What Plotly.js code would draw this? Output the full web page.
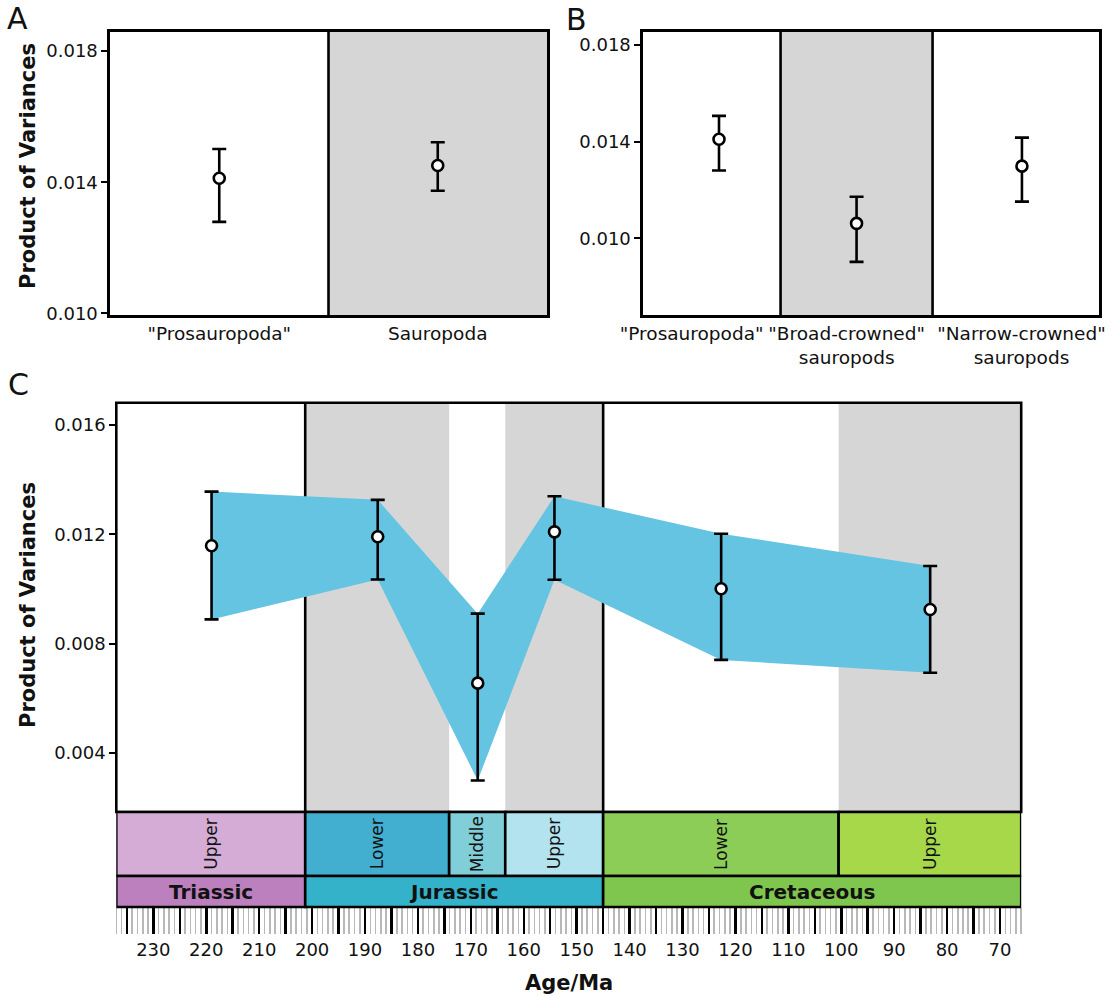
<!DOCTYPE html>
<html><head><meta charset="utf-8">
<script src="https://cdn.plot.ly/plotly-3.0.1.min.js"></script>
<style>body{margin:0;background:#fff}#chart{width:1112px;height:995px}</style>
</head><body><div id="chart"></div>
<script>
// ---------- Panel A ----------
const catA = ['"Prosauropoda"', 'Sauropoda'];
const valA = [0.01412, 0.01451];
const hiA  = [0.01501, 0.01522];
const loA  = [0.01279, 0.01374];

// ---------- Panel B ----------
const catB = ['"Prosauropoda"', '"Broad-crowned"<br>sauropods', '"Narrow-crowned"<br>sauropods'];
const valB = [0.01410, 0.01062, 0.01299];
const hiB  = [0.01507, 0.01172, 0.01417];
const loB  = [0.01281, 0.00903, 0.01152];

// ---------- Panel C ----------
const ageC = [219.0, 187.6, 168.7, 154.2, 122.7, 83.2];
const valC = [0.01158, 0.01191, 0.00656, 0.01209, 0.01001, 0.00925];
const hiC  = [0.01356, 0.01326, 0.00910, 0.01339, 0.01202, 0.01084];
const loC  = [0.00889, 0.01035, 0.00300, 0.01034, 0.00741, 0.00694];

// ---------- Geological time scale ----------
const periods      = ['Triassic', 'Jurassic', 'Cretaceous'];
const periodStart  = [237.0, 201.3, 145.0];
const periodEnd    = [201.3, 145.0, 66.0];
const periodColors = ['#bc80be', '#34b2c9', '#7fc64e'];
const epochs       = ['Upper', 'Lower', 'Middle', 'Upper', 'Lower', 'Upper'];
const epochStart   = [237.0, 201.3, 174.1, 163.5, 145.0, 100.5];
const epochEnd     = [201.3, 174.1, 163.5, 145.0, 100.5, 66.0];
const epochColors  = ['#d4acd6', '#42aed0', '#80cfd8', '#b3e3ee', '#8ccd57', '#a6d84a'];
const majorTicks   = [235,230,225,220,215,210,205,200,195,190,185,180,175,170,165,160,155,150,145,140,135,130,125,120,115,110,105,100,95,90,85,80,75,70];
const tickLabels   = ['','230','','220','','210','','200','','190','','180','','170','','160','','150','','140','','130','','120','','110','','100','','90','','80','','70'];

// ---------- helpers ----------
const W = 1112, H = 995;
const px = v => v / W;
const py = v => 1 - v / H;
const FONT = 'DejaVu Sans, Verdana, sans-serif';
const TXT = '#111';

function errTrace(x, v, hi, lo, xa, ya) {
  return {
    type: 'scatter', mode: 'markers', x: x, y: v, xaxis: xa, yaxis: ya,
    error_y: {type: 'data', symmetric: false,
      array: hi.map((h, i) => h - v[i]), arrayminus: lo.map((l, i) => v[i] - l),
      color: '#000', thickness: 2.6, width: 7},
    marker: {size: 11, color: '#fff', line: {color: '#000', width: 2.6}},
    hoverinfo: 'skip', showlegend: false, cliponaxis: false
  };
}

const posA = catA.map((_, i) => i);
const posB = [0, 0.905, 1.993];
const labelPosB = [-0.18, 0.84, 1.99];

const traces = [
  errTrace(posA, valA, hiA, loA, 'x', 'y'),
  errTrace(posB, valB, hiB, loB, 'x2', 'y2'),
  {type: 'scatter', mode: 'lines', xaxis: 'x3', yaxis: 'y3',
   x: ageC.concat(ageC.slice().reverse()),
   y: hiC.concat(loC.slice().reverse()),
   fill: 'toself', fillcolor: '#65c4e1', line: {width: 0, color: 'rgba(0,0,0,0)'},
   hoverinfo: 'skip', showlegend: false},
  errTrace(ageC, valC, hiC, loC, 'x3', 'y3')
];

const shapes = [];
const annotations = [];
const BL = {color: '#000', width: 2.6};

function note(o) {
  return Object.assign({showarrow: false, xanchor: 'center', yanchor: 'middle', xref: 'paper', yref: 'paper'}, o);
}

// Panel A background + divider
shapes.push({type: 'rect', xref: 'x', yref: 'y domain', x0: 0.5, x1: 1.5, y0: 0, y1: 1, fillcolor: '#d6d6d6', line: {width: 0}, layer: 'below'});
shapes.push({type: 'line', xref: 'x', yref: 'y domain', x0: 0.5, x1: 0.5, y0: 0, y1: 1, line: BL, layer: 'below'});
// Panel B background + dividers
shapes.push({type: 'rect', xref: 'x2', yref: 'y2 domain', x0: 0.405, x1: 1.405, y0: 0, y1: 1, fillcolor: '#d6d6d6', line: {width: 0}, layer: 'below'});
shapes.push({type: 'line', xref: 'x2', yref: 'y2 domain', x0: 0.405, x1: 0.405, y0: 0, y1: 1, line: BL, layer: 'below'});
shapes.push({type: 'line', xref: 'x2', yref: 'y2 domain', x0: 1.405, x1: 1.405, y0: 0, y1: 1, line: BL, layer: 'below'});

// Panel C shading by epoch (alternating)
epochs.forEach((e, i) => {
  if (i % 2 === 1) shapes.push({type: 'rect', xref: 'x3', yref: 'y3 domain', x0: epochStart[i], x1: epochEnd[i], y0: 0, y1: 1, fillcolor: '#d6d6d6', line: {width: 0}, layer: 'below'});
});
periods.forEach((p, i) => {
  if (i > 0) shapes.push({type: 'line', xref: 'x3', yref: 'y3 domain', x0: periodStart[i], x1: periodStart[i], y0: 0, y1: 1, line: BL, layer: 'below'});
});
shapes.push({type: 'rect', xref: 'x3 domain', yref: 'y3 domain', x0: 0, x1: 1, y0: 0, y1: 1, line: BL, fillcolor: 'rgba(0,0,0,0)', layer: 'above'});

// Time scale boxes
const stageTop = py(812), stageBot = py(876), perBot = py(907);
epochs.forEach((e, i) => {
  shapes.push({type: 'rect', xref: 'x3', yref: 'paper', x0: epochStart[i], x1: epochEnd[i], y0: stageBot, y1: stageTop, fillcolor: epochColors[i], line: BL});
  annotations.push(note({xref: 'x3', x: (epochStart[i] + epochEnd[i]) / 2, y: (stageTop + stageBot) / 2, text: e, textangle: -90, font: {size: 17, color: TXT}}));
});
periods.forEach((p, i) => {
  shapes.push({type: 'rect', xref: 'x3', yref: 'paper', x0: periodStart[i], x1: periodEnd[i], y0: perBot, y1: stageBot, fillcolor: periodColors[i], line: BL});
  annotations.push(note({xref: 'x3', x: (periodStart[i] + periodEnd[i]) / 2, y: (stageBot + perBot) / 2, text: '<b>' + p + '</b>', font: {size: 20, color: TXT}}));
});

// Titles and panel letters
annotations.push(note({x: px(28), y: py(166), text: '<b>Product of Variances</b>', textangle: -90, font: {size: 21, color: TXT}}));
annotations.push(note({x: px(28), y: py(605), text: '<b>Product of Variances</b>', textangle: -90, font: {size: 21, color: TXT}}));
annotations.push(note({x: px(569), y: py(983), text: '<b>Age/Ma</b>', font: {size: 21, color: TXT}}));
annotations.push(note({x: px(17), y: py(19), text: 'A', font: {size: 30, color: TXT}}));
annotations.push(note({x: px(576), y: py(20), text: 'B', font: {size: 30, color: TXT}}));
annotations.push(note({x: px(18), y: py(384), text: 'C', font: {size: 30, color: TXT}}));

const yCommon = {showgrid: false, zeroline: false, ticks: 'outside', ticklen: 6, tickwidth: 2, tickcolor: '#000', tickformat: '.3f', tickfont: {size: 18, color: TXT}};

const layout = {
  width: W, height: H, margin: {l: 0, r: 0, t: 0, b: 0},
  paper_bgcolor: '#fff', plot_bgcolor: '#fff',
  font: {family: FONT, color: TXT},
  showlegend: false,
  xaxis: {domain: [px(110), px(547)], range: [-0.5, 1.5], anchor: 'y', tickmode: 'array', tickvals: posA, ticktext: catA,
          ticks: '', showgrid: false, zeroline: false, showline: true, mirror: true, linecolor: '#000', linewidth: 2.6, tickfont: {size: 18.5, color: TXT}},
  yaxis: Object.assign({}, yCommon, {domain: [py(315), py(32)], range: [0.00995, 0.01858], anchor: 'x', tickvals: [0.010, 0.014, 0.018],
          showline: true, mirror: true, linecolor: '#000', linewidth: 2.6}),
  xaxis2: {domain: [px(643), px(1099)], range: [-0.5, 2.5], anchor: 'y2', tickmode: 'array', tickvals: labelPosB, ticktext: catB,
          ticks: '', showgrid: false, zeroline: false, showline: true, mirror: true, linecolor: '#000', linewidth: 2.6, tickfont: {size: 18.5, color: TXT}},
  yaxis2: Object.assign({}, yCommon, {domain: [py(315), py(32)], range: [0.00683, 0.01854], anchor: 'x2', tickvals: [0.010, 0.014, 0.018],
          showline: true, mirror: true, linecolor: '#000', linewidth: 2.6}),
  xaxis3: {domain: [px(116.3), px(1021.2)], range: [237, 66], anchor: 'free', position: py(907),
          tickmode: 'array', tickvals: majorTicks, ticktext: tickLabels, ticks: 'outside', ticklen: 26, tickwidth: 2.5, tickcolor: '#000',
          minor: {tickmode: 'linear', tick0: 0, dtick: 1, ticks: 'outside', ticklen: 26, tickwidth: 1.6, tickcolor: '#b8b8b8', showgrid: false},
          showgrid: false, zeroline: false, showline: false, tickfont: {size: 18, color: TXT}},
  yaxis3: Object.assign({}, yCommon, {domain: [py(812), py(402.7)], range: [0.00185, 0.01681], anchor: 'x3', tickvals: [0.004, 0.008, 0.012, 0.016]}),
  shapes: shapes,
  annotations: annotations
};

Plotly.newPlot('chart', traces, layout, {staticPlot: true, displayModeBar: false});
</script>
</body></html>
